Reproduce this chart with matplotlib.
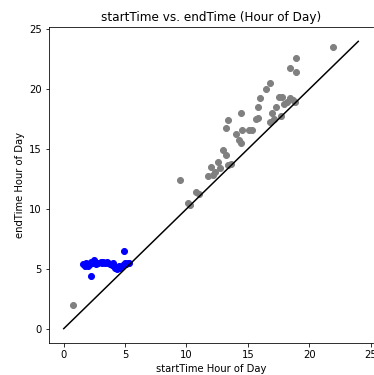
import matplotlib
matplotlib.use('Agg')
import matplotlib.pyplot as plt

# trips with start before ~5:30 (blue) vs the rest (gray)
early_start = [1.6, 1.7, 1.8, 1.9, 2.0, 2.1, 2.2, 2.4, 2.5, 2.6, 2.8, 3.0, 3.1, 3.2,
               3.4, 3.5, 3.6, 3.8, 3.9, 4.0, 4.1, 4.2, 4.3, 4.4, 4.5, 4.6, 4.8, 5.0,
               5.1, 5.2, 5.3, 2.2, 4.95]
early_end = [5.4, 5.2, 5.5, 5.3, 5.2, 5.4, 5.6, 5.5, 5.7, 5.4, 5.5, 5.6, 5.5, 5.6,
             5.5, 5.6, 5.5, 5.4, 5.3, 5.5, 5.2, 5.1, 5.0, 5.1, 5.2, 5.1, 5.3, 5.5,
             5.4, 5.5, 5.5, 4.4, 6.5]

other_start = [0.75, 9.45, 10.1, 10.25, 10.8, 11.0, 11.75, 12.0, 12.15, 12.3, 12.55,
               12.7, 12.95, 13.2, 13.35, 13.6, 13.2, 13.4, 14.0, 14.3, 14.45, 14.5,
               14.45, 15.1, 15.3, 15.65, 15.8, 15.85, 16.0, 16.5, 16.8, 16.8, 17.0,
               17.15, 17.3, 17.55, 17.75, 17.7, 17.95, 18.2, 18.45, 18.65, 18.85,
               18.45, 18.9, 18.9, 21.9]
other_end = [2.0, 12.4, 10.5, 10.3, 11.45, 11.25, 12.75, 13.5, 12.8, 13.1, 13.95,
             13.4, 14.9, 14.5, 13.7, 13.75, 16.8, 17.4, 16.3, 15.75, 15.5, 16.6,
             18.0, 16.6, 16.6, 17.5, 17.6, 18.5, 19.3, 20.0, 20.55, 17.3, 18.0,
             17.55, 18.5, 19.35, 19.35, 17.8, 18.8, 18.95, 19.3, 19.1, 18.95,
             21.8, 21.4, 22.6, 23.5]

diag = [0, 24]

fig = plt.figure(figsize=(374 / 72, 375 / 72), dpi=72)
ax = fig.add_axes([49 / 374, 32 / 375, 324 / 374, 316 / 375])

ax.scatter(other_start, other_end, color='gray')
ax.scatter(early_start, early_end, color='blue')
ax.plot(diag, diag, color='k')

ax.set_xlim(-1.2, 25.2)
ax.set_ylim(-1.2, 25.2)
ax.set_xticks([0, 5, 10, 15, 20, 25])
ax.set_yticks([0, 5, 10, 15, 20, 25])
ax.spines['right'].set_visible(False)
ax.set_title('startTime vs. endTime (Hour of Day)')
ax.set_xlabel('startTime Hour of Day')
ax.set_ylabel('endTime Hour of Day')

fig.savefig('out.png', dpi=72)
